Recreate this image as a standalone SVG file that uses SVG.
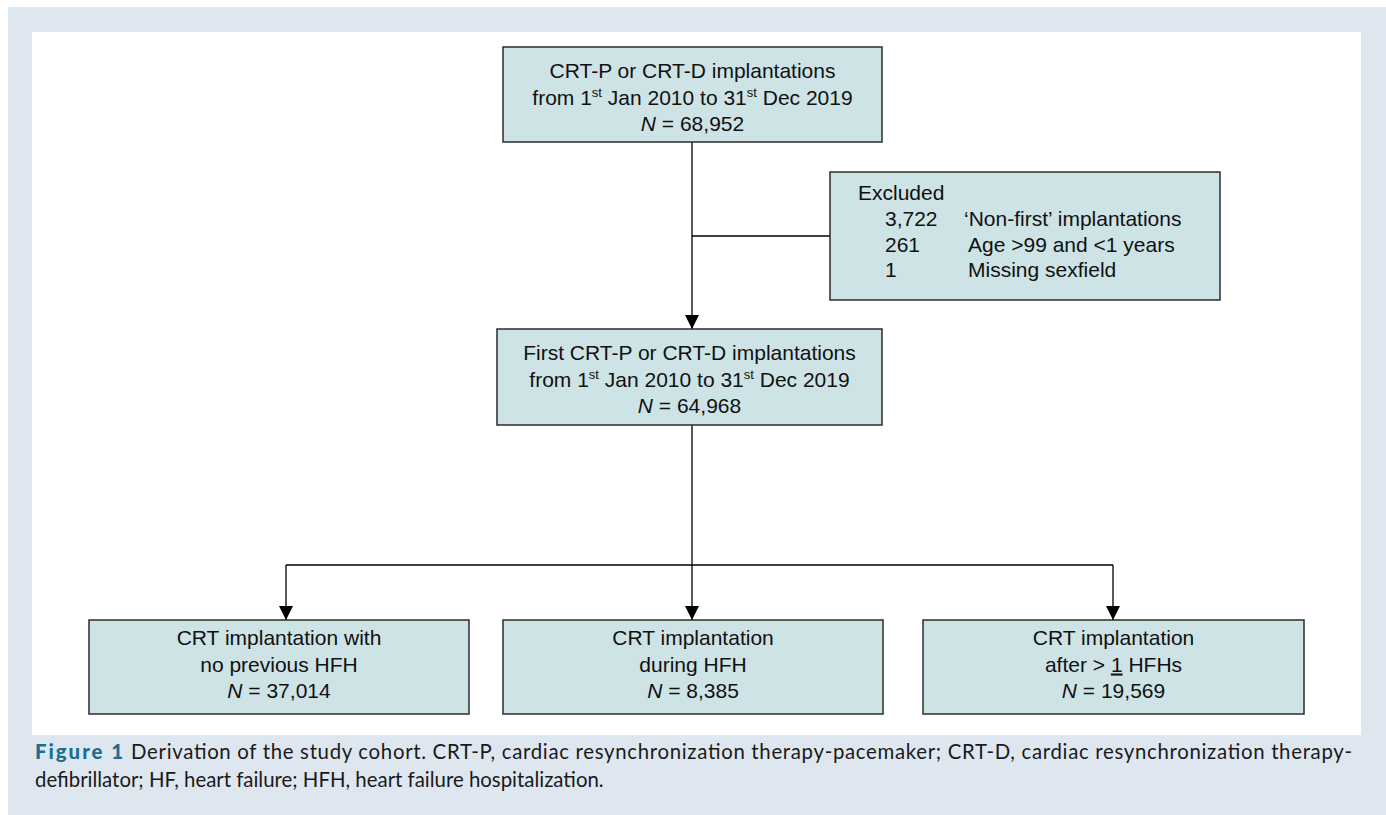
<svg xmlns="http://www.w3.org/2000/svg" width="1386" height="815" viewBox="0 0 1386 815">
<defs>
<style>
.box{fill:#cde3e6;stroke:#2b2b2b;stroke-width:1.5}
.t{font-family:"Liberation Sans",Arial,sans-serif;font-size:21px;fill:#111}
.c{text-anchor:middle}
.sup{font-size:13px}
.conn{stroke:#000;stroke-width:1.3;fill:none}
.cap{font-family:Lato,"Open Sans",sans-serif;font-size:20.4px;fill:#1a1a1a}
.fig{font-weight:900;fill:#1b6f8c;letter-spacing:1.3px}
</style>
<marker id="ad" markerUnits="userSpaceOnUse" markerWidth="14" markerHeight="14" viewBox="0 0 14 14" refX="7" refY="14" orient="0">
<path d="M0,0 L14,0 L7,14 Z" fill="#000"/>
</marker>
</defs>
<rect x="8" y="7" width="1378" height="808" fill="#dee7f0"/>
<rect x="32" y="32" width="1329" height="703" fill="#ffffff"/>

<g id="connectors">
<line class="conn" x1="692" y1="142" x2="692" y2="329" marker-end="url(#ad)"/>
<line class="conn" x1="692" y1="236" x2="830" y2="236"/>
<line class="conn" x1="692" y1="425" x2="692" y2="565"/>
<line class="conn" x1="286" y1="565" x2="1113" y2="565"/>
<line class="conn" x1="286" y1="565" x2="286" y2="620" marker-end="url(#ad)"/>
<line class="conn" x1="692" y1="565" x2="692" y2="620" marker-end="url(#ad)"/>
<line class="conn" x1="1113" y1="565" x2="1113" y2="620" marker-end="url(#ad)"/>
</g>

<g id="node-all">
<rect class="box" x="503" y="47" width="379" height="95"/>
<text class="t c" x="692.5" y="78">CRT-P or CRT-D implantations</text>
<text class="t c" x="692.5" y="104.5">from 1<tspan class="sup" dy="-8">st</tspan><tspan dy="8"> Jan 2010 to 31</tspan><tspan class="sup" dy="-8">st</tspan><tspan dy="8"> Dec 2019</tspan></text>
<text class="t c" x="692.5" y="131"><tspan font-style="italic">N</tspan> = 68,952</text>
</g>

<g id="node-excluded">
<rect class="box" x="830" y="172" width="390" height="128"/>
<text class="t" x="858" y="200">Excluded</text>
<text class="t" x="885" y="225.5">3,722</text>
<text class="t" x="964" y="225.5">‘Non-first’ implantations</text>
<text class="t" x="885" y="251.5">261</text>
<text class="t" x="968" y="251.5">Age &gt;99 and &lt;1 years</text>
<text class="t" x="885" y="277">1</text>
<text class="t" x="968" y="277">Missing sexfield</text>
</g>

<g id="node-first">
<rect class="box" x="497" y="329" width="385" height="96"/>
<text class="t c" x="689.5" y="360">First CRT-P or CRT-D implantations</text>
<text class="t c" x="689.5" y="386.5">from 1<tspan class="sup" dy="-8">st</tspan><tspan dy="8"> Jan 2010 to 31</tspan><tspan class="sup" dy="-8">st</tspan><tspan dy="8"> Dec 2019</tspan></text>
<text class="t c" x="689.5" y="413"><tspan font-style="italic">N</tspan> = 64,968</text>
</g>

<g id="node-nohfh">
<rect class="box" x="89" y="620" width="380" height="94"/>
<text class="t c" x="279" y="645">CRT implantation with</text>
<text class="t c" x="279" y="671.5">no previous HFH</text>
<text class="t c" x="279" y="698"><tspan font-style="italic">N</tspan> = 37,014</text>
</g>

<g id="node-during">
<rect class="box" x="503" y="620" width="380" height="94"/>
<text class="t c" x="693" y="645">CRT implantation</text>
<text class="t c" x="693" y="671.5">during HFH</text>
<text class="t c" x="693" y="698"><tspan font-style="italic">N</tspan> = 8,385</text>
</g>

<g id="node-after">
<rect class="box" x="923" y="620" width="381" height="94"/>
<text class="t c" x="1113.5" y="645">CRT implantation</text>
<text class="t c" x="1113.5" y="671.5">after &gt; <tspan text-decoration="underline">1</tspan> HFHs</text>
<text class="t c" x="1113.5" y="698"><tspan font-style="italic">N</tspan> = 19,569</text>
</g>

<g id="caption">
<text class="cap" x="35" y="759" textLength="1317" lengthAdjust="spacing"><tspan class="fig">Figure 1</tspan> Derivation of the study cohort. CRT-P, cardiac resynchronization therapy-pacemaker; CRT-D, cardiac resynchronization therapy-</text>
<text class="cap" x="35" y="787">defibrillator; HF, heart failure; HFH, heart failure hospitalization.</text>
</g>
</svg>
